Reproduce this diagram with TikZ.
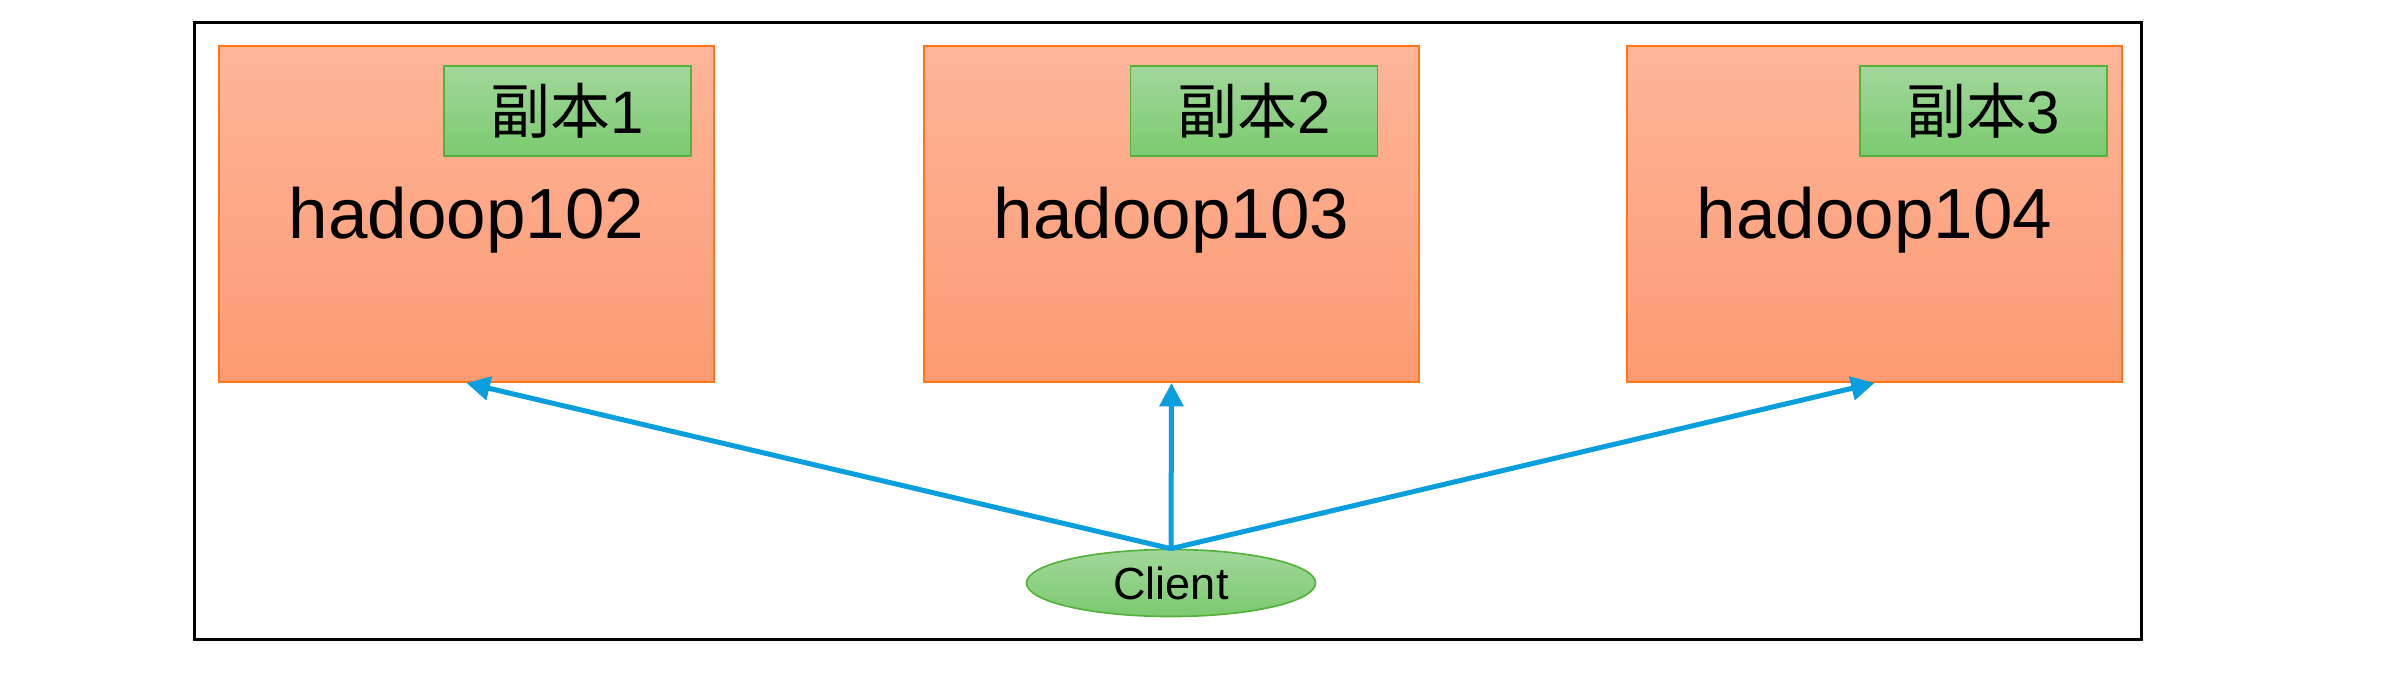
\documentclass[tikz,border=0pt]{standalone}
\usepackage{fontspec}
\setmainfont{Liberation Sans}
\newfontfamily\cjk{Noto Sans CJK SC}
\usetikzlibrary{arrows.meta,shapes.geometric}
\definecolor{hostborder}{RGB}{255,118,24}
\definecolor{hosttop}{RGB}{253,181,153}
\definecolor{hostbot}{RGB}{252,154,114}
\definecolor{greenborder}{RGB}{84,178,58}
\definecolor{greentop}{RGB}{162,215,155}
\definecolor{greenbot}{RGB}{123,202,112}
\definecolor{arrowblue}{RGB}{10,158,222}
\begin{document}
\begin{tikzpicture}[x=0.3pt,y=-0.3pt,
  frame/.style={draw=black, line width=0.9pt, minimum width=1947*0.3pt, minimum height=616*0.3pt, inner sep=0pt},
  host/.style={draw=hostborder, line width=0.6pt, top color=hosttop, bottom color=hostbot, minimum width=495*0.3pt, minimum height=336*0.3pt, inner sep=0pt},
  hosttext/.style={anchor=base, inner sep=0pt, font=\fontsize{21.3pt}{24pt}\selectfont},
  replica/.style={draw=greenborder, line width=0.5pt, top color=greentop, bottom color=greenbot, minimum width=247*0.3pt, minimum height=90*0.3pt, inner sep=0pt, font=\fontsize{18pt}{20pt}\selectfont},
  client/.style={ellipse, draw=greenborder, line width=0.5pt, top color=greentop, bottom color=greenbot, minimum width=289*0.3pt, minimum height=67*0.3pt, inner sep=0pt, font=\fontsize{13.5pt}{15pt}\selectfont},
  conn/.style={draw=arrowblue, line width=1.5pt, -{Triangle[length=7pt,width=7pt]}}
]
\useasboundingbox (0,0) rectangle (2386,678);
\node[frame] (f) at (1167.5,331) {};
% hosts
\node[host] (h1) at (466.5,214) {};
\node[host] (h2) at (1171.5,214) {};
\node[host] (h3) at (1874.5,214) {};
\node[hosttext] (t1) at (466.5,239) {hadoop102};
\node[hosttext] (t2) at (1171.5,239) {hadoop103};
\node[hosttext] (t3) at (1874.5,239) {hadoop104};
% replicas
\node[replica] (r1) at (567.5,111) {{\cjk 副本}1};
\node[replica] (r2) at (1254,111) {{\cjk 副本}2};
\node[replica] (r3) at (1983.5,111) {{\cjk 副本}3};
% client
\node[client] (c) at (1171,583) {Client};
% connectors
\draw[conn] (c.north) -- (h1.south);
\draw[conn] (c.north) -- (h2.south);
\draw[conn] (c.north) -- (h3.south);
\end{tikzpicture}
\end{document}
